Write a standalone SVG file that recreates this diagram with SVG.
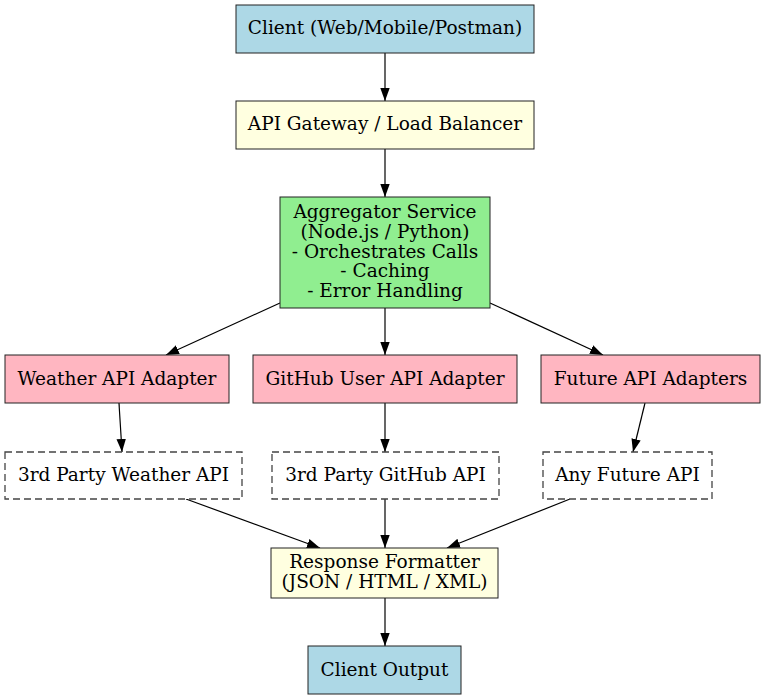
<svg xmlns="http://www.w3.org/2000/svg" width="765" height="700" viewBox="0 0 765 700">
<defs>
<marker id="ah" viewBox="0 0 13 10" refX="13" refY="5" markerWidth="13" markerHeight="10" markerUnits="userSpaceOnUse" orient="auto">
<path d="M0,0.3 L13,5 L0,9.7 Z" fill="#000"/>
</marker>
</defs>
<style>
.n{stroke:#222;stroke-width:1}
.d{fill:#fff;stroke:#444;stroke-width:1.3;stroke-dasharray:7,4}
.blue{fill:#add8e6}.yel{fill:#ffffe0}.grn{fill:#90ee90}.pink{fill:#ffb6c1}
text{font-family:"DejaVu Serif","Liberation Serif",serif;font-size:18.5px;fill:#000;text-anchor:middle}
.e{stroke:#000;stroke-width:1.2;fill:none;marker-end:url(#ah)}
</style>
<rect width="765" height="700" fill="#fff"/>
<g id="edges">
<line class="e" x1="385" y1="53" x2="385" y2="101"/>
<line class="e" x1="385" y1="149" x2="385" y2="197"/>
<line class="e" x1="280" y1="303" x2="166" y2="355"/>
<line class="e" x1="385" y1="308" x2="385" y2="355"/>
<line class="e" x1="490" y1="303" x2="603" y2="355"/>
<line class="e" x1="119" y1="403" x2="122" y2="452"/>
<line class="e" x1="385" y1="403" x2="385" y2="452"/>
<line class="e" x1="645" y1="403" x2="633" y2="452"/>
<line class="e" x1="186" y1="499" x2="320" y2="548"/>
<line class="e" x1="385" y1="499" x2="385" y2="548"/>
<line class="e" x1="570" y1="499" x2="447" y2="548"/>
<line class="e" x1="385" y1="598" x2="385" y2="646"/>
</g>
<g id="client"><rect class="n blue" x="236" y="5" width="298" height="48"/><text x="385" y="34">Client (Web/Mobile/Postman)</text></g>
<g id="gateway"><rect class="n yel" x="236" y="101" width="298" height="48"/><text x="385" y="130">API Gateway / Load Balancer</text></g>
<g id="aggregator"><rect class="n grn" x="280" y="197" width="210" height="111"/>
<text x="385" y="218">Aggregator Service</text>
<text x="385" y="238">(Node.js / Python)</text>
<text x="385" y="257.5">- Orchestrates Calls</text>
<text x="385" y="277">- Caching</text>
<text x="385" y="297">- Error Handling</text></g>
<g id="weatherAdapter"><rect class="n pink" x="5" y="355" width="224" height="48"/><text x="117" y="385">Weather API Adapter</text></g>
<g id="githubAdapter"><rect class="n pink" x="253" y="355" width="264" height="48"/><text x="385" y="385">GitHub User API Adapter</text></g>
<g id="futureAdapter"><rect class="n pink" x="541" y="355" width="219" height="48"/><text x="650.5" y="385">Future API Adapters</text></g>
<g id="weatherApi"><rect class="d" x="5" y="452" width="237" height="47"/><text x="123.5" y="481">3rd Party Weather API</text></g>
<g id="githubApi"><rect class="d" x="272" y="452" width="227" height="47"/><text x="385.5" y="481">3rd Party GitHub API</text></g>
<g id="futureApi"><rect class="d" x="543" y="452" width="169" height="47"/><text x="627.5" y="481">Any Future API</text></g>
<g id="formatter"><rect class="n yel" x="271" y="548" width="227" height="50"/>
<text x="384.5" y="568">Response Formatter</text>
<text x="384.5" y="588">(JSON / HTML / XML)</text></g>
<g id="clientOutput"><rect class="n blue" x="308" y="646" width="153" height="48"/><text x="384.5" y="676">Client Output</text></g>
</svg>
